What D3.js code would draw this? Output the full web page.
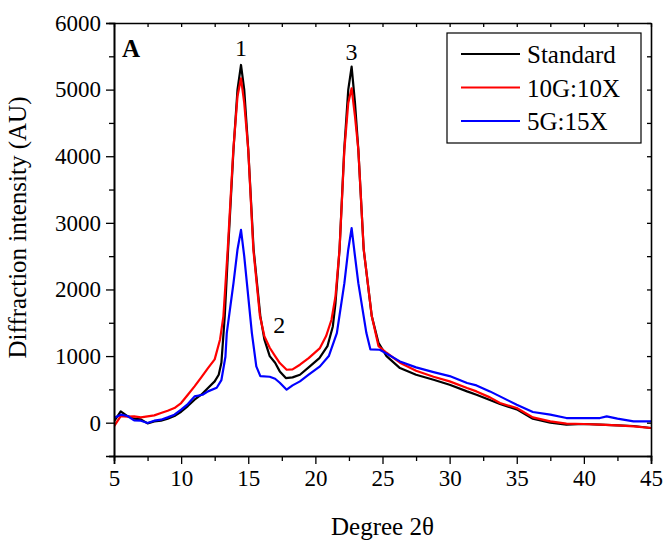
<!DOCTYPE html>
<html>
<head>
<meta charset="utf-8">
<script src="https://cdn.jsdelivr.net/npm/d3@7"></script>
<style>
  body { margin: 0; background: #fff; }
  svg text { font-family: "Liberation Serif", "Times New Roman", serif; fill: #000; }
</style>
</head>
<body>
<div id="chart"></div>
<script>
// Values
const stdTheta = [5, 5.5, 6, 6.5, 7, 7.5, 8, 8.5, 9, 9.5, 10, 10.5, 11, 11.5, 12, 12.5, 12.8, 13.0, 13.25, 13.5, 13.9, 14.2, 14.46, 14.7, 15.0, 15.4, 15.9, 16.2, 16.6, 17.0, 17.35, 17.8, 18.3, 18.85, 19.5, 20.3, 20.9, 21.3, 21.5, 21.8, 22.15, 22.45, 22.7, 22.95, 23.2, 23.6, 24.2, 24.7, 25.3, 26.3, 27.5, 28.8, 30, 31.3, 32, 33, 33.75, 35, 36.2, 37.5, 38.7, 40, 41.2, 42.5, 43.7, 45];
const stdIntensity = [20, 170, 100, 60, 50, -10, 20, 30, 60, 100, 165, 250, 345, 420, 520, 620, 720, 900, 1600, 2600, 4100, 5000, 5370, 5000, 4100, 2600, 1600, 1250, 1000, 900, 770, 670, 680, 720, 830, 970, 1150, 1445, 1800, 2600, 4100, 5000, 5345, 4800, 4100, 2600, 1600, 1200, 1000, 820, 720, 645, 570, 470, 420, 340, 280, 200, 60, 0, -30, -20, -30, -40, -50, -80];

const g10Theta = [5, 5.5, 6, 6.5, 7, 7.5, 8, 8.5, 9, 9.5, 10, 10.5, 11, 11.5, 12, 12.5, 12.9, 13.15, 13.47, 13.89, 14.2, 14.46, 14.7, 15.0, 15.38, 15.87, 16.2, 16.6, 17.0, 17.35, 17.86, 18.3, 18.85, 19.5, 20.34, 20.8, 21.2, 21.5, 21.8, 22.16, 22.45, 22.7, 22.95, 23.2, 23.6, 24.2, 24.7, 25.3, 26.3, 27.5, 28.8, 30, 31.3, 32, 33, 33.75, 35, 36.2, 37.5, 38.7, 40, 41.2, 42.5, 43.7, 45];
const g10Intensity = [-55, 100, 90, 95, 80, 95, 110, 145, 180, 220, 295, 420, 545, 680, 820, 950, 1250, 1600, 2600, 4100, 4900, 5170, 4800, 4100, 2600, 1600, 1300, 1125, 1000, 895, 795, 800, 870, 970, 1120, 1300, 1545, 1900, 2600, 4100, 4800, 5020, 4600, 4100, 2600, 1600, 1150, 1050, 900, 780, 690, 620, 520, 470, 380, 295, 220, 80, 20, -15, -20, -30, -40, -55, -80];

const g5Theta = [5, 5.5, 6, 6.5, 7, 7.5, 8, 8.5, 9, 9.5, 10, 10.5, 11, 11.6, 12, 12.65, 13.0, 13.3, 13.4, 13.9, 14.2, 14.46, 14.7, 14.9, 15.27, 15.6, 15.9, 16.6, 17.0, 17.35, 17.86, 18.3, 18.85, 19.5, 20.34, 21.0, 21.6, 22.16, 22.45, 22.7, 22.95, 23.2, 23.8, 24.1, 24.8, 26.3, 27.5, 28.8, 30, 31.3, 32, 33, 33.75, 35, 36.2, 37.5, 38.7, 40, 41.2, 41.7, 42.5, 43.7, 45];
const g5Intensity = [70, 120, 100, 35, 30, -5, 30, 45, 80, 120, 195, 280, 395, 420, 470, 525, 640, 990, 1345, 2095, 2600, 2895, 2500, 2095, 1345, 845, 700, 690, 660, 600, 495, 560, 620, 720, 845, 1000, 1345, 2095, 2600, 2920, 2500, 2095, 1345, 1100, 1095, 920, 830, 760, 700, 595, 560, 470, 395, 270, 160, 120, 70, 70, 70, 95, 60, 20, 20];

const seriesNames = ["Standard", "10G:10X", "5G:15X"];
const seriesColors = ["#000000", "#ff0000", "#0000ff"];

const xTicks = [5, 10, 15, 20, 25, 30, 35, 40, 45];
const yTicks = [0, 1000, 2000, 3000, 4000, 5000, 6000];

const peakLabels = ["1", "2", "3"];
const peakTheta = [14.46, 17.3, 22.7];
const peakValue = [5500, 1350, 5450];

const series = [
    stdTheta.map((t, i) => ({ t: t, v: stdIntensity[i] })),
    g10Theta.map((t, i) => ({ t: t, v: g10Intensity[i] })),
    g5Theta.map((t, i) => ({ t: t, v: g5Intensity[i] }))
];

const margin = { top: 23, right: 13, bottom: 85, left: 114 },
    width = 664 - margin.left - margin.right,
    height = 541 - margin.top - margin.bottom;

const svg = d3.select("#chart")
    .append("svg")
    .attr("width", 664)
    .attr("height", 541)
    .append("g")
    .attr("transform", `translate(${margin.left},${margin.top})`);

const xScale = d3.scaleLinear().domain([5, 45]).range([0, width]);
const yScale = d3.scaleLinear().domain([-500, 6000]).range([height, 0]);

// Clip for the data lines
svg.append("clipPath").attr("id", "clip")
    .append("rect").attr("width", width).attr("height", height);

const line = d3.line()
    .x(d => xScale(d.t))
    .y(d => yScale(d.v));

svg.append("g").attr("clip-path", "url(#clip)")
    .selectAll("path")
    .data(series)
    .join("path")
    .attr("fill", "none")
    .attr("stroke", (d, i) => seriesColors[i])
    .attr("stroke-width", 2.2)
    .attr("stroke-linejoin", "round")
    .attr("d", line);

// Minor tick positions
const xMinor = d3.range(7.5, 45, 5);
const yMinor = d3.range(-500, 6000, 1000);

// Bottom axis
svg.append("g")
    .attr("transform", `translate(0,${height})`)
    .call(d3.axisBottom(xScale).tickValues(xTicks).tickSize(8).tickPadding(6).tickFormat(d3.format("d")));
svg.append("g")
    .attr("transform", `translate(0,${height})`)
    .call(d3.axisBottom(xScale).tickValues(xMinor).tickSize(5).tickFormat(""));

// Left axis
svg.append("g")
    .call(d3.axisLeft(yScale).tickValues(yTicks).tickSize(8).tickPadding(5).tickFormat(d3.format("d")));
svg.append("g")
    .call(d3.axisLeft(yScale).tickValues(yMinor).tickSize(5).tickFormat(""));

// Top and right mirror axes, ticks inward
svg.append("g")
    .call(d3.axisTop(xScale).tickValues(xTicks.concat(xMinor)).tickSizeInner(-4).tickSizeOuter(0).tickFormat(""));
svg.append("g")
    .attr("transform", `translate(${width},0)`)
    .call(d3.axisRight(yScale).tickValues(yTicks.concat(yMinor)).tickSizeInner(-4).tickSizeOuter(0).tickFormat(""));

svg.selectAll(".domain").attr("stroke", "#000").attr("stroke-width", 1.6);
svg.selectAll(".tick line").attr("stroke", "#000").attr("stroke-width", 1.3);
svg.selectAll(".tick text")
    .style("font-family", "'Liberation Serif', 'Times New Roman', serif")
    .style("font-size", "23px");

// Axis labels
svg.append("text")
    .attr("text-anchor", "middle")
    .attr("x", width / 2)
    .attr("y", height + 79)
    .attr("font-size", 25)
    .text("Degree 2θ");

svg.append("text")
    .attr("text-anchor", "middle")
    .attr("transform", `translate(${-88},${height / 2 - 12}) rotate(-90)`)
    .attr("font-size", 25)
    .text("Diffraction intensity (AU)");

// Panel letter
svg.append("text")
    .attr("x", 8)
    .attr("y", 34)
    .attr("font-size", 25)
    .attr("font-weight", "bold")
    .text("A");

// Peak labels
svg.selectAll(".peak")
    .data(peakLabels)
    .join("text")
    .attr("class", "peak")
    .attr("text-anchor", "middle")
    .attr("x", (d, i) => xScale(peakTheta[i]))
    .attr("y", (d, i) => yScale(peakValue[i]))
    .attr("font-size", 24)
    .text(d => d);

// Legend
const legend = svg.append("g").attr("transform", `translate(${447 - margin.left},${33 - margin.top})`);
legend.append("rect")
    .attr("width", 194)
    .attr("height", 110)
    .attr("fill", "#fff")
    .attr("stroke", "#000")
    .attr("stroke-width", 1.2);

seriesNames.forEach((name, i) => {
    legend.append("line")
        .attr("x1", 14).attr("x2", 73)
        .attr("y1", 21 + i * 33.5).attr("y2", 21 + i * 33.5)
        .attr("stroke", seriesColors[i])
        .attr("stroke-width", 2);
    legend.append("text")
        .attr("x", 80)
        .attr("y", 30 + i * 33.5)
        .attr("font-size", 25)
        .text(name);
});
</script>
</body>
</html>
